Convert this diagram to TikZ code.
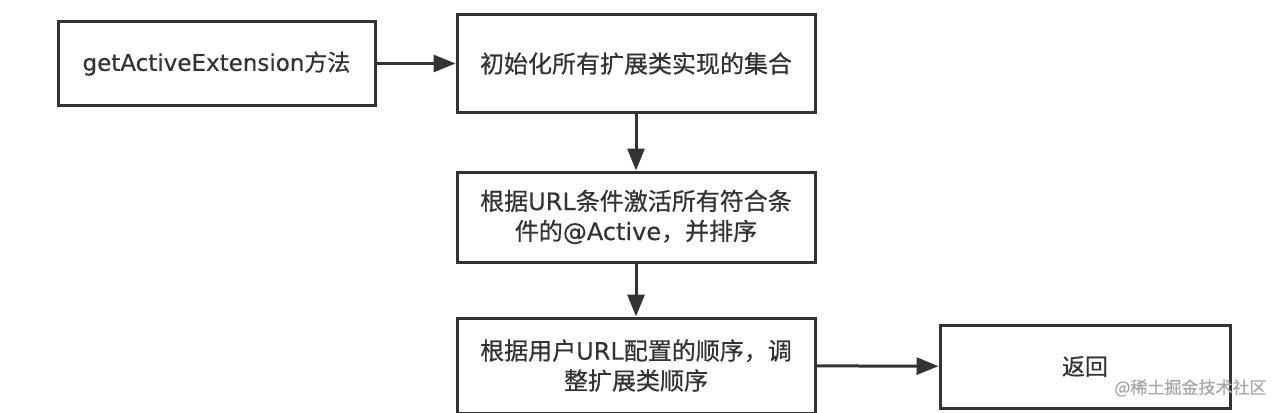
\documentclass[tikz,border=0pt]{standalone}
\usepackage{fontspec}
\setmainfont{Noto Sans CJK SC}[FakeBold=0.6]
\newfontfamily\latfont{DejaVu Sans}[FakeBold=0.3]
\usepackage{xcolor}
\usepackage{tikz}
\usetikzlibrary{arrows.meta}

\definecolor{inkgray}{HTML}{333333}
\definecolor{markgray}{HTML}{A8A8A8}

\newcommand{\lat}[1]{{\latfont #1}}

\tikzset{
  stepbox/.style={draw=inkgray, line width=3pt, fill=white, text=inkgray,
    align=center, inner sep=0pt, font=\fontsize{24}{30}\selectfont},
  flow/.style={draw=inkgray, line width=3pt,
    -{Triangle[length=22pt,width=17pt]}},
}

\begin{document}
\begin{tikzpicture}[x=1pt,y=-1pt]
    \useasboundingbox (0,0) rectangle (1284,412);
    % Steps
    \node[stepbox, minimum width=317pt, minimum height=83pt, font=\fontsize{23}{29}\selectfont] (entry) at (216.5,63.5) {\lat{getActiveExtension}方法};
    \node[stepbox, minimum width=358pt, minimum height=97pt] (init) at (636,63.5) {初始化所有扩展类实现的集合};
    \node[stepbox, minimum width=358pt, minimum height=90pt] (activate) at (636,217) {根据\lat{URL}条件激活所有符合条\\件的\lat{@Active}，并排序};
    \node[stepbox, minimum width=358pt, minimum height=95pt] (reorder) at (636,365.5) {根据用户\lat{URL}配置的顺序，调\\整扩展类顺序};
    \node[stepbox, minimum width=290pt, minimum height=83pt, font=\fontsize{23}{29}\selectfont] (ret) at (1085,366.5) {返回};
    % Connectors
    \draw[flow] (entry) -- (init);
    \draw[flow] (init) -- (activate);
    \draw[flow] (activate) -- (reorder);
    \draw[flow] (reorder) -- (ret);
    % Watermark
    \node[text=markgray, font=\fontsize{17}{20}\selectfont, anchor=east] (mark) at (1270,388) {@稀土掘金技术社区};
\end{tikzpicture}
\end{document}
